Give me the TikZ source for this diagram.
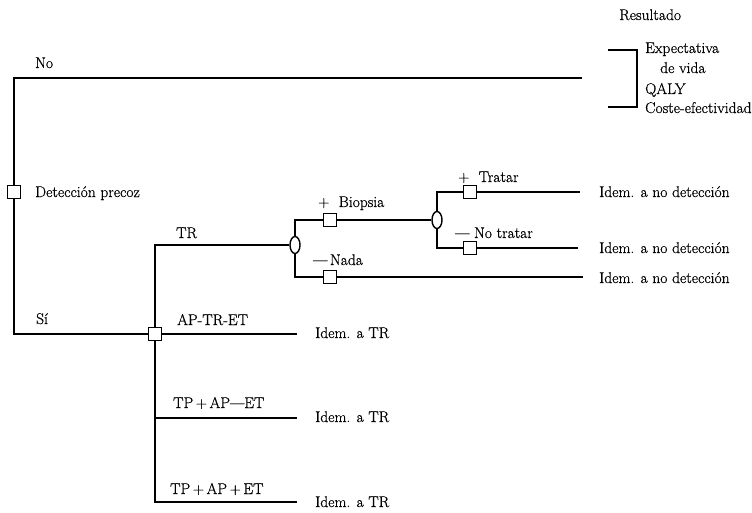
\documentclass[tikz,border=0pt]{standalone}
\usepackage{fontspec}
\setmainfont{Latin Modern Roman}[FakeBold=0.6]
\usetikzlibrary{shapes.geometric}
\begin{document}
\begin{tikzpicture}[x=1pt,y=-1pt,
  every node/.style={font=\fontsize{15.5}{18}\selectfont},
  ln/.style={line width=1.6pt},
  sq/.style={draw,line width=1.2pt,fill=white,minimum size=12.5pt,inner sep=0pt},
  ov/.style={draw,ellipse,line width=1.4pt,fill=white,minimum width=10pt,minimum height=17pt,inner sep=0pt},
  lb/.style={anchor=base west,inner sep=0pt}]
\useasboundingbox (0,0) rectangle (752,513);
% coordinates
\coordinate (noend) at (582,78);
\coordinate (apend) at (297,334);
\coordinate (j2) at (155,418);
\coordinate (m2end) at (297,418);
\coordinate (j3end) at (297,502);
\coordinate (nadaend) at (583,277);
\coordinate (tratend) at (580,192);
\coordinate (notratend) at (578,248);
\coordinate (br1) at (608,50);
\coordinate (br2) at (637,107);
\coordinate (br3) at (608,107);
% decision / chance nodes
\node[sq] (d) at (14,192) {};
\node[sq] (s) at (155,334) {};
\node[ov] (e1) at (295,245) {};
\node[sq] (b) at (330,220) {};
\node[sq] (n) at (330,277) {};
\node[ov] (e2) at (437,220) {};
\node[sq] (t) at (470,192) {};
\node[sq] (nt) at (470,248) {};
\begin{scope}[ln]
\draw (d.north) |- (noend);
\draw (d.south) |- (s.west);
\draw (s.north) |- (e1.west);
\draw (s.east) -- (apend);
\draw (s.south) |- (j3end);
\draw (j2) -- (m2end);
\draw (e1.north) |- (b.west);
\draw (b.east) -- (e2.west);
\draw (e1.south) |- (n.west);
\draw (n.east) -- (nadaend);
\draw (e2.north) |- (t.west);
\draw (t.east) -- (tratend);
\draw (e2.south) |- (nt.west);
\draw (nt.east) -- (notratend);
\draw (br1) -| (br2) -- (br3);
\end{scope}
% labels
\node[lb] (lno) at (35,68) {No};
\node[lb] (ldet) at (35,197) {Detección precoz};
\node[lb] (lsi) at (36,324) {Sí};
\node[lb] (ltr) at (176,238) {TR};
\node[lb] (lap) at (177,325) {AP-TR-ET};
\node[lb] (ltp1) at (173,408) {TP\,+\,AP---ET};
\node[lb] (ltp2) at (170,494) {TP\,+\,AP\,+\,ET};
\node[lb] (lbio) at (318,207) {+\ \ Biopsia};
\node[lb] (lnada) at (313,265) {---\,Nada};
\node[lb] (ltrat) at (458,182) {+\ \ Tratar};
\node[lb] (lnotrat) at (455,238) {---\ No tratar};
\node[lb] (i1) at (599,197) {Idem. a no detección};
\node[lb] (i2) at (599,253) {Idem. a no detección};
\node[lb] (i3) at (599,283) {Idem. a no detección};
\node[lb] (i4) at (315,338) {Idem. a TR};
\node[lb] (i5) at (315,422) {Idem. a TR};
\node[lb] (i6) at (315,507) {Idem. a TR};
\node[lb] (res) at (619,20) {Resultado};
\node[lb] (r1) at (645,53) {Expectativa};
\node[lb] (r2) at (660,73) {de vida};
\node[lb] (r3) at (645,94) {QALY};
\node[lb] (r4) at (645,113) {Coste-efectividad};
\end{tikzpicture}
\end{document}
